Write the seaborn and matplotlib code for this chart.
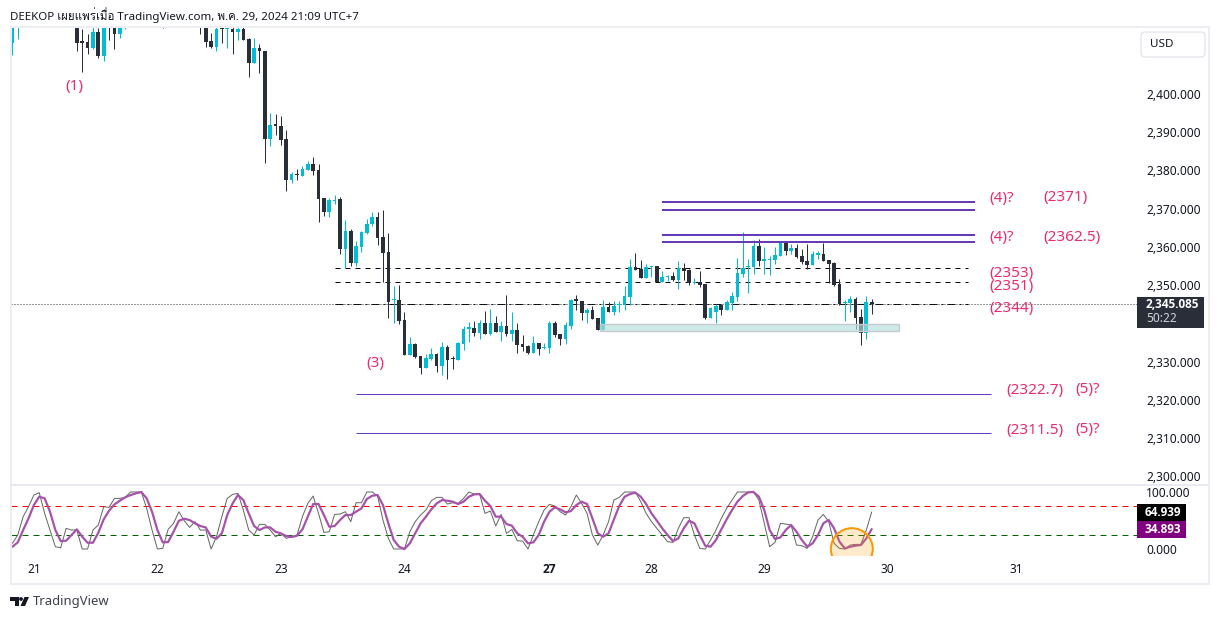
import matplotlib
matplotlib.use("Agg")
import matplotlib.pyplot as plt
from matplotlib import font_manager as fm
from matplotlib.ft2font import FT2Font
from matplotlib.patches import Rectangle, Ellipse, Polygon, Circle, FancyBboxPatch
from matplotlib.ticker import FuncFormatter
import numpy as np
import pandas as pd
import seaborn as sns

opens = [2413.4,2418.0,2421.0,2423.5,2425.0,2424.0,2426.0,2428.0,2427.0,2425.0,2423.0,2422.0,
2420.0,2413.6,2413.6,2411.9,2416.2,2410.0,2420.0,2418.0,2415.7,2419.0,
2420,2422,2424,2423,2425,2426,2424,2422,2423,2424.5,2423,2424,2422.5,2421,
2419,2413.9,2412.4,2417.1,2416.9,2417.0,2416.3,2417.0,2414.4,2408.2,2412.0,2411.2,2388.3,2391.9,2391.6,2388.2,2377.6,2379.0,2378.6,2380.1,2381.8,2380.1,2372.8,2369.2,2372.0,
2372.5,2359.5,2364.1,2355.8,2360.0,2363.7,2366.0,2367.7,2362.5,2358.7,2346.0,2346.1,2340.9,2331.8,2334.6,2331.4,2328.3,2330.7,2332.0,2328.8,2333.8,2330.8,2330.4,2334.6,2338.6,2338.8,2337.5,2340.1,2337.2,2340.1,2337.7,2339.3,2337.2,2338.3,2334.6,2334.1,2332.2,2334.8,2333.5,2333.5,2340.1,2337.2,2335.9,2339.3,2346.1,2345.8,2342.7,2343.5,2341.4,2338.3,2344.3,2343.0,2344.8,2344.8,
2347.0,2354.7,2354.2,2351.9,2354.7,2355.0,2350.8,2352.1,2352.4,2351.3,2354.5,2354.0,2350.6,2350.7,2350.3,2341.4,2343.0,2344.8,2343.5,2345.3,2346.9,2352.9,2354.7,2354.7,2360.2,2356.4,2356.6,2356.6,2357.6,2361.1,2358.9,2359.7,2357.6,2356.3,2355.3,2358.0,2358.1,2356.6,2355.8,2350.3,2345.2,2345.3,2346.4,2341.6,2337.5,2345.6]

closes = [2418.0,2421.0,2423.5,2425,2424,2426,2428,2427,2425,2423,2422,2420,
2413.4,2413.4,2412.1,2416.2,2410.0,2418.0,2418.5,2415.7,2418.0,2420.0,
2422,2424,2423,2425,2426,2424,2422,2423,2424.5,2423,2424,2422.5,2421,2419,
2413.7,2412.4,2417.0,2416.9,2417.1,2416.3,2417.0,2414.2,2408.2,2412.0,2411.1,2388.3,2391.8,2391.7,2388.0,2377.6,2379.0,2378.8,2380.4,2381.8,2379.9,2372.5,2369.2,2372.2,2372.2,
2359.5,2364.1,2355.8,2360.2,2363.9,2366.1,2367.7,2362.4,2358.5,2345.7,2346.2,2340.7,2331.8,2334.6,2331.2,2328.3,2330.9,2332.0,2328.8,2333.8,2330.4,2330.6,2334.8,2338.5,2338.8,2337.5,2340.1,2337.2,2340.1,2337.7,2339.3,2337.2,2338.3,2334.3,2333.8,2332.2,2334.8,2333.3,2333.7,2340.1,2336.9,2335.9,2339.6,2346.1,2345.9,2342.7,2343.5,2341.1,2338.3,2344.3,2343.0,2344.5,2345.0,2347.2,
2354.7,2354.0,2351.9,2354.7,2354.9,2350.8,2352.1,2352.3,2351.3,2354.4,2353.7,2350.6,2350.8,2350.0,2341.4,2344.0,2344.5,2343.5,2345.6,2347.2,2353.2,2354.5,2354.9,2360.2,2356.3,2356.6,2356.8,2357.9,2361.1,2358.9,2359.7,2357.4,2356.0,2355.3,2358.1,2358.2,2356.3,2355.5,2350.0,2345.0,2345.4,2346.4,2341.4,2337.5,2345.6,2345.085]

highs = [2419.0,2422,2424.5,2426,2426,2427,2429,2429,2428,2426,2424,2423,
2421,2416.9,2415.7,2417.4,2417.2,2419,2421,2419,2419,2421,
2423,2425,2425,2426,2427,2427,2425,2424,2425.5,2425.5,2425,2425,2423.5,2422,
2420,2415.9,2417.5,2417.5,2417.5,2417.5,2417.5,2417.5,2414.7,2414.7,2413.1,2411.2,2394.9,2394.7,2394.2,2390.5,2379.7,2380.3,2381.1,2382.4,2383.5,2381.7,2372.8,2372.8,2373.7,
2373.1,2367.0,2364.6,2361.5,2364.1,2367.4,2369.1,2369.1,2369.7,2363.6,2349.8,2350.0,2342.9,2336.4,2334.8,2331.4,2332.0,2333.5,2332.2,2335.1,2334.3,2331.4,2335.1,2339.3,2340.3,2340.6,2340.9,2343.2,2343.7,2341.9,2340.6,2347.4,2343.0,2340.1,2336.9,2334.3,2336.7,2334.8,2334.8,2340.6,2340.6,2337.2,2340.3,2346.4,2347.4,2345.8,2344.0,2344.5,2341.4,2346.1,2345.6,2345.8,2345.8,2349.8,
2356.8,2358.4,2356.6,2355.5,2355.0,2355.0,2353.7,2352.6,2353.4,2356.3,2355.8,2354.2,2351.9,2353.7,2350.3,2344.3,2345.0,2345.0,2346.1,2348.2,2357.1,2363.9,2356.8,2361.8,2362.1,2360.0,2357.6,2360.0,2361.4,2361.4,2360.8,2360.8,2359.5,2360.8,2358.9,2358.9,2361.1,2356.6,2356.0,2351.6,2346.1,2347.2,2346.9,2343.7,2347.2,2346.4]

lows = [2410.2,2414.4,2420.5,2422.5,2423,2423,2425,2426,2424,2422,2421,2419,
2411.3,2405.8,2410.5,2411.7,2409.5,2408.5,2414.1,2411.8,2414.6,2417.1,
2419,2421,2422,2422,2424,2423,2417.2,2421,2422,2422,2422,2421.5,2420,2415.7,
2412.4,2411.9,2411.3,2413.4,2412.1,2410.5,2414.2,2414.2,2404.5,2408.2,2405.6,2382.0,2386.5,2389.3,2386.7,2374.7,2376.8,2377.4,2378.6,2380.1,2378.9,2366.6,2368.1,2367.9,2371.2,
2358.1,2354.6,2355.1,2355.1,2358.7,2363.3,2365.4,2360.6,2350.7,2341.4,2340.1,2339.9,2331.8,2331.8,2330.9,2326.7,2328.3,2330.4,2327.3,2326.5,2325.4,2328.0,2330.4,2333.0,2335.1,2336.7,2335.9,2337.2,2337.0,2337.7,2335.4,2336.7,2335.4,2332.2,2332.8,2332.0,2332.2,2331.7,2333.3,2332.2,2336.4,2334.3,2334.6,2338.5,2343.5,2340.9,2340.1,2341.1,2338.3,2338.3,2343.0,2342.2,2343.0,2343.5,
2344.8,2354.0,2351.9,2351.9,2352.1,2350.8,2350.8,2351.1,2351.1,2349.0,2351.3,2350.0,2350.3,2349.5,2341.1,2341.4,2340.1,2342.2,2343.5,2343.5,2345.8,2352.1,2347.9,2352.9,2355.0,2352.9,2352.6,2355.5,2357.6,2357.9,2358.1,2357.1,2355.5,2354.2,2355.3,2356.8,2356.3,2350.6,2349.8,2344.8,2340.6,2343.0,2338.5,2334.3,2335.9,2342.4]

stoch_k = [9.9,24.5,56.7,74.2,94.7,98.8,62.5,33.3,4,2.2,36.2,33.3,33.3,0,0,33.3,42,74.2,73,88.8,88.8,90.6,100,100,100,71.3,33.3,0,1,34.4,45,65.4,49.6,37.9,47.9,33.3,33.3,0,21.6,56.7,88.8,95.8,97.6,68.4,33.3,24.5,43.2,43.2,33.3,21.6,27.4,18.6,21.6,24.5,56.7,80,92.9,62.5,29.2,30.3,60.7,61.3,65.4,47.9,81.2,81.2,100,100,92.9,50.8,18.6,0,0,0,30.3,47.9,59.6,68.4,84.7,90.6,90.6,78.9,
81.2,80,88.8,100,96.4,96.4,62.5,66.6,40.3,60.7,27.4,34.4,14.5,13.9,0,24.5,47.9,68.4,78.3,75.4,65.4,59.6,74.2,94.7,80,62.5,24.5,6.9,24.5,47.9,85.9,90.6,100,100,100,83,62.5,47.9,36.2,24.5,12.8,11.6,36.2,54.9,54.9,24.5,1,0,15.7,33.3,53.7,71.3,85.9,100,100,100,100,85.9,45,4,11.6,45,43.8,42,6.9,5.8,1,21.6,50.8,60.7,47.9,9.9,1,0,6.9,8.1,8.1,33.3,64.939]

stoch_d = [4,11.6,33.3,53.7,77.1,91.8,88.8,65.4,33.3,13.9,14.5,24.5,34.4,21.6,11,11,28.6,52,67.2,78.3,84.7,90.6,94.7,97.6,100,88.8,65.4,33.3,11.6,12.2,30.3,49.6,53.1,50.8,45,40.3,37.9,21.6,18,27.4,59.6,80,94.7,85.9,62.5,40.3,33.3,37.9,37.9,30.3,27.4,22.7,21,23.3,34.4,56.7,78.9,78.9,59.6,39.1,40.3,50.8,59.6,59.6,65.4,71.3,87.7,93.5,94.7,77.1,45,15.7,4,0,9.9,27.4,45,56.7,69.5,80,85.9,84.7,
83,78.9,83,91.8,95.8,96.4,84.7,75.4,56.7,56.7,43.8,40.9,27.4,21.6,9.9,11.6,24.5,47.9,65.4,73,69.5,64.3,66.6,77.1,83,78.9,53.7,27.4,21.6,27.4,52,75.4,91.8,96.4,98.8,91.8,78.9,62.5,49.6,36.2,24.5,13.9,18.6,36.2,49.6,45,24.5,5.8,4,15.7,34.4,52,68.4,83,92.9,99.4,100,91.8,68.4,33.3,17.5,20.4,33.3,42,30.3,15.7,4,9.9,24.5,45,50.8,36.2,12.8,1,4,5.8,7,18.6,34.893]

assert len(opens) == len(closes) == len(highs) == len(lows) == len(stoch_k) == len(stoch_d) == 161

day_labels = ["21", "22", "23", "24", "27", "28", "29", "30", "31"]
day_bars = [4, 27, 50, 73, 100, 119, 140, 163, 187]
price_ticks = [2300, 2310, 2320, 2330, 2350, 2360, 2370, 2380, 2390, 2400]
stoch_ticks = [0, 100]
level_thick = [2371.7, 2369.6, 2363.1, 2361.3]
level_dashed = [2354.5, 2350.8]
level_thin = [2321.6, 2311.4]
level_dashdot = 2345.0
last_price = 2345.085
band_levels = (2338.0, 2339.8)
stoch_bands = (75, 25)

W, H = 1219, 619
PX = 0.72
sns.set_theme(style="white")

# any installed family with Thai glyphs goes in as a fallback for the header line
thai_families = []
for entry in fm.fontManager.ttflist:
    try:
        if 0x0E1E in FT2Font(entry.fname).get_charmap() and entry.name not in thai_families:
            thai_families.append(entry.name)
    except Exception:
        pass
plt.rcParams["font.family"] = ["Noto Sans", "DejaVu Sans"] + thai_families

def rect(l, t, r, b):
    return [l / W, 1 - b / H, (r - l) / W, (b - t) / H]

UP, DOWN = "#00bcd4", "#2a2e39"
TXT = "#131722"
PINK = "#ec2a6e"
PURPLE = "#673ab7"
BOLD = ["Open Sans", "DejaVu Sans"]

df = pd.DataFrame({"bar": np.arange(len(opens)), "open": opens, "high": highs,
                   "low": lows, "close": closes, "k": stoch_k, "d": stoch_d})
df["color"] = np.where(df["close"] >= df["open"], UP, DOWN)

fig = plt.figure(figsize=(W / 100, H / 100), dpi=100, facecolor="white")
ax = fig.add_axes(rect(11, 27, 1137, 484))
sax = fig.add_axes(rect(11, 485, 1137, 556), sharex=ax)
xlim = (-0.26, 209.4)

# candles
ax.vlines(df["bar"], df["low"], df["high"], colors=df["color"], lw=1.0 * PX, zorder=3)
body = (df["close"] - df["open"]).abs().clip(lower=0.35)
ax.bar(df["bar"], body, bottom=df[["open", "close"]].min(axis=1), width=0.68,
       color=df["color"], linewidth=0, zorder=4)

# levels
ax.hlines(level_thick, 120.9, 179.3, colors=PURPLE, lw=2.0 * PX, zorder=5)
ax.hlines(level_thin, 64, 182.2, colors=PURPLE, lw=1.0 * PX, zorder=2)
for lv in level_dashed:
    ax.plot([60.1, 178], [lv, lv], color="black", lw=1.0 * PX, ls=(0, (5, 5)), zorder=2)
ax.plot([60.1, 178], [level_dashdot] * 2, color="black", lw=1.0 * PX, ls=(0, (8, 4, 2, 4)), zorder=2)
ax.axhline(last_price, color="#2a2e39", lw=1.0 * PX, ls=(0, (1, 2)), zorder=2)
ax.add_patch(Rectangle((109.4, band_levels[0]), 55.7, band_levels[1] - band_levels[0],
                       facecolor=(0.70, 0.875, 0.85, 0.65), edgecolor="#c6cad2", lw=1.4 * PX, zorder=6))

ax.set_xlim(*xlim)
ax.set_ylim(2298.0, 2417.5)
ax.yaxis.tick_right()
ax.set_yticks(price_ticks)
ax.yaxis.set_major_formatter(FuncFormatter(lambda v, _: f"{v:,.3f}"))
ax.tick_params(axis="y", length=0, pad=6.5, labelsize=8.6, labelcolor=TXT)
ax.tick_params(axis="x", length=0, labelbottom=False)
for s in ax.spines.values():
    s.set_visible(False)
ax.grid(False)

# stochastic pane
sns.lineplot(data=df, x="bar", y="k", ax=sax, color="#666666", lw=1.0 * PX, zorder=3)
sns.lineplot(data=df, x="bar", y="d", ax=sax, color="#a652ab", lw=2.2 * PX, zorder=4)
sax.plot(xlim, [stoch_bands[0]] * 2, color="#ff0000", lw=1.0 * PX, ls=(0, (6, 5)), zorder=2)
sax.plot(xlim, [stoch_bands[1]] * 2, color="#006400", lw=1.0 * PX, ls=(0, (6, 5)), zorder=2)
sax.add_patch(Ellipse((156.3, 0), 7.8, 73, facecolor="#ff9800", alpha=0.2, lw=0, zorder=5))
sax.add_patch(Ellipse((156.3, 0), 7.8, 73, facecolor="none", edgecolor="#ff9800", lw=2.0 * PX, zorder=5))
sax.set_ylim(-12.3, 112.3)
sax.set_xlabel("")
sax.set_ylabel("")
sax.yaxis.tick_right()
sax.set_yticks(stoch_ticks)
sax.yaxis.set_major_formatter(FuncFormatter(lambda v, _: f"{v:.3f}"))
sax.tick_params(axis="y", length=0, pad=6.5, labelsize=8.6, labelcolor=TXT)
sax.set_xticks(day_bars)
sax.set_xticklabels(day_labels)
sax.tick_params(axis="x", length=0, pad=5, labelsize=8.6, labelcolor=TXT)
bold_day = sax.get_xticklabels()[day_labels.index("27")]
bold_day.set_family(BOLD)
bold_day.set_fontweight("bold")
for s in sax.spines.values():
    s.set_visible(False)
sax.grid(False)

# overlay in pixel space for chrome, tags and annotations
ov = fig.add_axes([0, 0, 1, 1], facecolor="none", zorder=10)
ov.set_xlim(0, W)
ov.set_ylim(H, 0)
ov.axis("off")
frame = "#eceef4"
ov.add_patch(Rectangle((10.5, 26.5), 1198, 557.5, facecolor="none", edgecolor=frame, lw=2 * PX))
ov.plot([11, 1208], [484.5, 484.5], color="#e4e6ee", lw=1.6 * PX)

ov.text(10, 15, "DEEKOP เผยแพร่เมื่อ TradingView.com, พ.ค. 29, 2024 21:09 UTC+7",
        fontsize=8.3, color=TXT, va="center", ha="left")

# USD button
ov.add_patch(FancyBboxPatch((1141, 32), 64, 25, boxstyle="round,pad=0,rounding_size=4",
                            facecolor="white", edgecolor="#e0e3eb", lw=1.2 * PX))
ov.text(1150, 44.5, "USD", fontsize=8.4, color=TXT, va="center", ha="left")

# value tags
ov.add_patch(Rectangle((1137, 297), 67, 31, facecolor="#2a2e39", lw=0))
ov.text(1146, 305, "2,345.085", fontsize=8.5, fontweight="bold", family=BOLD, color="white", va="center")
ov.text(1146, 319, "50:22", fontsize=8.6, color="#d1d4dc", va="center")
ov.add_patch(Rectangle((1137, 504), 49, 17, facecolor="black", lw=0))
ov.text(1145, 512.5, "64.939", fontsize=8.5, fontweight="bold", family=BOLD, color="white", va="center")
ov.add_patch(Rectangle((1137, 521), 49, 17, facecolor="#800080", lw=0))
ov.text(1145, 529.5, "34.893", fontsize=8.5, fontweight="bold", family=BOLD, color="white", va="center")

# annotations
notes = [(74, 85, "(1)", "center"), (375, 362, "(3)", "center"),
         (989, 197, "(4)?", "left"), (1043, 196, "(2371)", "left"),
         (989, 236, "(4)?", "left"), (1043, 236, "(2362.5)", "left"),
         (989, 272, "(2353)", "left"), (989, 285, "(2351)", "left"), (989, 307, "(2344)", "left"),
         (1006, 389, "(2322.7)", "left"), (1075, 388, "(5)?", "left"),
         (1006, 429, "(2311.5)", "left"), (1075, 428, "(5)?", "left")]
for x, y, s, ha in notes:
    ov.text(x, y + 1.5, s, fontsize=11, color=PINK, va="center", ha=ha)

# footer logo
ov.add_patch(Polygon([(10, 597), (18.5, 597), (18.5, 606), (14.5, 606), (14.5, 601), (10, 601)],
                     facecolor=TXT, lw=0))
ov.add_patch(Circle((21, 599), 1.9, facecolor=TXT, lw=0))
ov.add_patch(Polygon([(24.5, 597), (29, 597), (25, 606), (20.5, 606)], facecolor=TXT, lw=0))
ov.text(33, 601.5, "TradingView", fontsize=9.4, color="#3c4049", va="center", ha="left")

fig.savefig("out.png", dpi=100)
